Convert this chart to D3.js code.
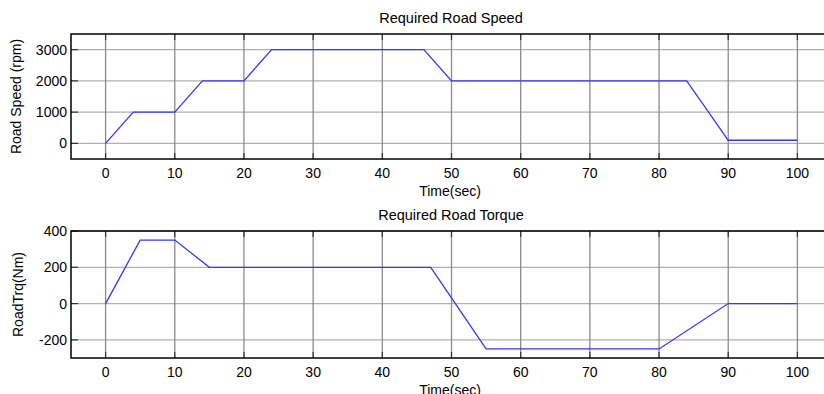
<!DOCTYPE html>
<html><head><meta charset="utf-8">
<script src="https://cdn.jsdelivr.net/npm/d3@7"></script>
<style>
body{margin:0;background:#fff;}
svg text{font-family:"Liberation Sans",Arial,sans-serif;fill:#000;}
</style></head><body>
<svg id="c" width="824" height="394"></svg>
<script>
// Data
const speedTime  = [0, 4, 10, 14, 20, 24, 46, 50, 84, 90, 100];
const speedValue = [0, 1000, 1000, 2000, 2000, 3000, 3000, 2000, 2000, 100, 100];
const torqueTime  = [0, 5, 10, 15, 47, 55, 80, 90, 100];
const torqueValue = [0, 350, 350, 200, 200, -250, -250, 0, 0];
const xTicks = [0,10,20,30,40,50,60,70,80,90,100];
const speedTicks = [0,1000,2000,3000];
const torqueTicks = [-200,0,200,400];

const svg = d3.select("#c");
const left = 71, right = 832;
const x = d3.scaleLinear().domain([-5,105]).range([left,right]);

function panel(cfg){
  const y = d3.scaleLinear().domain(cfg.ydom).range([cfg.bottom, cfg.top]);
  const g = svg.append("g");
  // grid
  g.selectAll(".gh").data(cfg.yticks).enter().append("line")
    .attr("x1",left).attr("x2",right).attr("y1",d=>y(d)).attr("y2",d=>y(d))
    .attr("stroke","#b0b0b0").attr("stroke-width",1.3);
  g.selectAll(".gv").data(xTicks).enter().append("line")
    .attr("x1",d=>x(d)).attr("x2",d=>x(d)).attr("y1",cfg.top).attr("y2",cfg.bottom)
    .attr("stroke","#8a8a8a").attr("stroke-width",1.3);
  // inward ticks
  g.selectAll(".tt").data(xTicks).enter().append("line")
    .attr("x1",d=>x(d)).attr("x2",d=>x(d)).attr("y1",cfg.top).attr("y2",cfg.top+6)
    .attr("stroke","#333").attr("stroke-width",1.2);
  g.selectAll(".tb").data(xTicks).enter().append("line")
    .attr("x1",d=>x(d)).attr("x2",d=>x(d)).attr("y1",cfg.bottom).attr("y2",cfg.bottom-6)
    .attr("stroke","#333").attr("stroke-width",1.2);
  g.selectAll(".tl").data(cfg.yticks).enter().append("line")
    .attr("x1",left).attr("x2",left+7).attr("y1",d=>y(d)).attr("y2",d=>y(d))
    .attr("stroke","#333").attr("stroke-width",1.2);
  // frame
  g.append("rect").attr("x",left).attr("y",cfg.top).attr("width",right-left).attr("height",cfg.bottom-cfg.top)
    .attr("fill","none").attr("stroke","#000").attr("stroke-width",1.5);
  // line
  const pts = cfg.t.map((t,i)=>[t,cfg.v[i]]);
  g.append("path").datum(pts)
    .attr("d", d3.line().x(d=>x(d[0])).y(d=>y(d[1])))
    .attr("fill","none").attr("stroke","#3535ff").attr("stroke-width",1.3);
  // tick labels
  g.selectAll(".xl").data(xTicks).enter().append("text")
    .attr("x",d=>x(d)).attr("y",cfg.bottom+19).attr("text-anchor","middle")
    .attr("font-size",14).text(d=>d);
  g.selectAll(".yl").data(cfg.yticks).enter().append("text")
    .attr("x",left-4).attr("y",d=>y(d)+5).attr("text-anchor","end")
    .attr("font-size",14).text(d=>d);
  // title
  g.append("text").attr("x",451).attr("y",cfg.top-11).attr("text-anchor","middle")
    .attr("font-size",14.5).text(cfg.title);
  g.append("text").attr("x",450).attr("y",cfg.bottom+37).attr("text-anchor","middle")
    .attr("font-size",14).text("Time(sec)");
  g.append("text").attr("transform",`translate(${cfg.ylx},${(cfg.top+cfg.bottom)/2}) rotate(-90)`)
    .attr("text-anchor","middle").attr("font-size",14).text(cfg.ylabel);
}

panel({top:34,bottom:159,ydom:[-500,3500],yticks:speedTicks,t:speedTime,v:speedValue,
  title:"Required Road Speed",ylabel:"Road Speed (rpm)",ylx:21});
panel({top:231,bottom:358,ydom:[-300,400],yticks:torqueTicks,t:torqueTime,v:torqueValue,
  title:"Required Road Torque",ylabel:"RoadTrq(Nm)",ylx:23});
</script></body></html>
